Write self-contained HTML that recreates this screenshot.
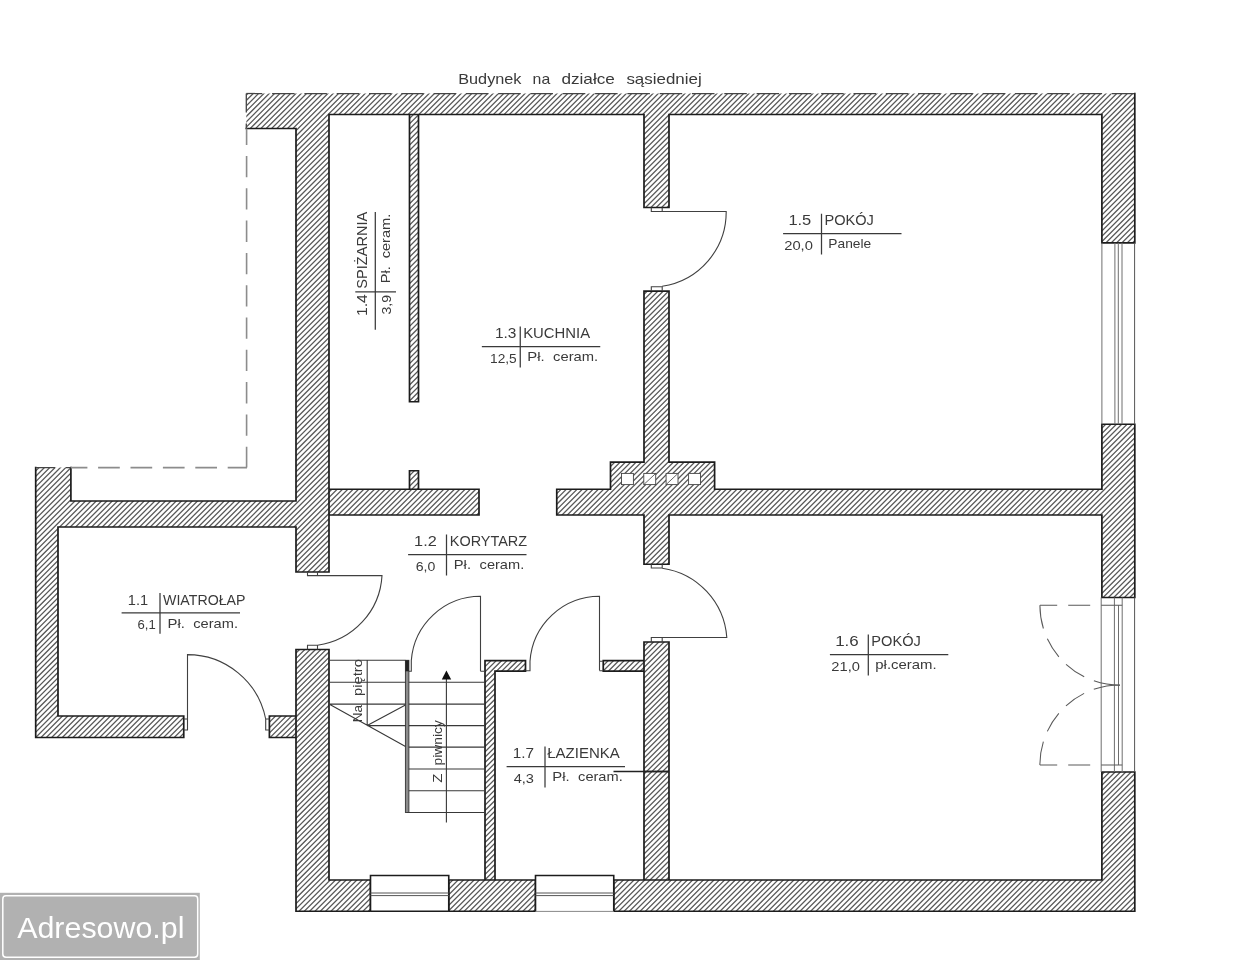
<!DOCTYPE html>
<html lang="pl">
<head>
<meta charset="utf-8">
<title>Rzut parteru</title>
<style>
html,body{margin:0;padding:0;background:#fff;}
body{width:1242px;height:960px;overflow:hidden;font-family:"Liberation Sans",sans-serif;}
svg{display:block;will-change:transform;}
</style>
</head>
<body>
<svg width="1242" height="960" viewBox="0 0 1242 960">
<defs><clipPath id="wc"><path d="M418.5 401.75 L418.5 114.5 L644 114.5 L644 207.5 L669 207.5 L669 114.5 L1101.9 114.5 L1101.9 242.8 L1134.8 242.8 L1134.8 114.5 L1134.8 93.5 L1101.9 93.5 L329 93.5 L296 93.5 L246.3 93.5 L246.3 114.5 L246.3 128.5 L296 128.5 L296 501 L70.9 501 L70.9 467.6 L35.7 467.6 L35.7 501 L35.7 527 L35.7 716 L35.7 737.5 L58 737.5 L183.75 737.5 L183.75 716 L58 716 L58 527 L296 527 L296 572 L329 572 L329 515 L479 515 L479 489.25 L418.5 489.25 L418.5 470.75 L409.5 470.75 L409.5 489.25 L329 489.25 L329 114.5 L409.5 114.5 L409.5 401.75 Z M296 737.5 L296 880 L296 911.25 L329 911.25 L370.5 911.25 L370.5 880 L329 880 L329 649.5 L296 649.5 L296 716 L269.4 716 L269.4 737.5 Z M485 671.1 L485 880 L448.75 880 L448.75 911.25 L535.5 911.25 L535.5 880 L495 880 L495 671.1 L525.5 671.1 L525.5 660.7 L495 660.7 L485 660.7 Z M556.75 489.25 L556.75 515 L644 515 L644 564.25 L669 564.25 L669 515 L1101.9 515 L1101.9 597.5 L1134.8 597.5 L1134.8 424.25 L1101.9 424.25 L1101.9 489.25 L714.6 489.25 L714.6 462.2 L669 462.2 L669 291.1 L644 291.1 L644 462.2 L610.5 462.2 L610.5 489.25 Z M644 771.5 L644 880 L613.75 880 L613.75 911.25 L1101.9 911.25 L1134.8 911.25 L1134.8 880 L1134.8 772 L1101.9 772 L1101.9 880 L669 880 L669 771.5 L669 642 L644 642 L644 660.7 L603.25 660.7 L603.25 671.1 L644 671.1 Z" clip-rule="evenodd"/></clipPath></defs>
<rect width="1242" height="960" fill="#fff"/>
<g clip-path="url(#wc)"><path d="M0.3 0 L-959.7 960 M5.63 0 L-954.37 960 M10.96 0 L-949.04 960 M16.29 0 L-943.71 960 M21.62 0 L-938.38 960 M26.95 0 L-933.05 960 M32.28 0 L-927.72 960 M37.61 0 L-922.39 960 M42.94 0 L-917.06 960 M48.27 0 L-911.73 960 M53.6 0 L-906.4 960 M58.93 0 L-901.07 960 M64.26 0 L-895.74 960 M69.59 0 L-890.41 960 M74.92 0 L-885.08 960 M80.25 0 L-879.75 960 M85.58 0 L-874.42 960 M90.91 0 L-869.09 960 M96.24 0 L-863.76 960 M101.57 0 L-858.43 960 M106.9 0 L-853.1 960 M112.23 0 L-847.77 960 M117.56 0 L-842.44 960 M122.89 0 L-837.11 960 M128.22 0 L-831.78 960 M133.55 0 L-826.45 960 M138.88 0 L-821.12 960 M144.21 0 L-815.79 960 M149.54 0 L-810.46 960 M154.87 0 L-805.13 960 M160.2 0 L-799.8 960 M165.53 0 L-794.47 960 M170.86 0 L-789.14 960 M176.19 0 L-783.81 960 M181.52 0 L-778.48 960 M186.85 0 L-773.15 960 M192.18 0 L-767.82 960 M197.51 0 L-762.49 960 M202.84 0 L-757.16 960 M208.17 0 L-751.83 960 M213.5 0 L-746.5 960 M218.83 0 L-741.17 960 M224.16 0 L-735.84 960 M229.49 0 L-730.51 960 M234.82 0 L-725.18 960 M240.15 0 L-719.85 960 M245.48 0 L-714.52 960 M250.81 0 L-709.19 960 M256.14 0 L-703.86 960 M261.47 0 L-698.53 960 M266.8 0 L-693.2 960 M272.13 0 L-687.87 960 M277.46 0 L-682.54 960 M282.79 0 L-677.21 960 M288.12 0 L-671.88 960 M293.45 0 L-666.55 960 M298.78 0 L-661.22 960 M304.11 0 L-655.89 960 M309.44 0 L-650.56 960 M314.77 0 L-645.23 960 M320.1 0 L-639.9 960 M325.43 0 L-634.57 960 M330.76 0 L-629.24 960 M336.09 0 L-623.91 960 M341.42 0 L-618.58 960 M346.75 0 L-613.25 960 M352.08 0 L-607.92 960 M357.41 0 L-602.59 960 M362.74 0 L-597.26 960 M368.07 0 L-591.93 960 M373.4 0 L-586.6 960 M378.73 0 L-581.27 960 M384.06 0 L-575.94 960 M389.39 0 L-570.61 960 M394.72 0 L-565.28 960 M400.05 0 L-559.95 960 M405.38 0 L-554.62 960 M410.71 0 L-549.29 960 M416.04 0 L-543.96 960 M421.37 0 L-538.63 960 M426.7 0 L-533.3 960 M432.03 0 L-527.97 960 M437.36 0 L-522.64 960 M442.69 0 L-517.31 960 M448.02 0 L-511.98 960 M453.35 0 L-506.65 960 M458.68 0 L-501.32 960 M464.01 0 L-495.99 960 M469.34 0 L-490.66 960 M474.67 0 L-485.33 960 M480 0 L-480 960 M485.33 0 L-474.67 960 M490.66 0 L-469.34 960 M495.99 0 L-464.01 960 M501.32 0 L-458.68 960 M506.65 0 L-453.35 960 M511.98 0 L-448.02 960 M517.31 0 L-442.69 960 M522.64 0 L-437.36 960 M527.97 0 L-432.03 960 M533.3 0 L-426.7 960 M538.63 0 L-421.37 960 M543.96 0 L-416.04 960 M549.29 0 L-410.71 960 M554.62 0 L-405.38 960 M559.95 0 L-400.05 960 M565.28 0 L-394.72 960 M570.61 0 L-389.39 960 M575.94 0 L-384.06 960 M581.27 0 L-378.73 960 M586.6 0 L-373.4 960 M591.93 0 L-368.07 960 M597.26 0 L-362.74 960 M602.59 0 L-357.41 960 M607.92 0 L-352.08 960 M613.25 0 L-346.75 960 M618.58 0 L-341.42 960 M623.91 0 L-336.09 960 M629.24 0 L-330.76 960 M634.57 0 L-325.43 960 M639.9 0 L-320.1 960 M645.23 0 L-314.77 960 M650.56 0 L-309.44 960 M655.89 0 L-304.11 960 M661.22 0 L-298.78 960 M666.55 0 L-293.45 960 M671.88 0 L-288.12 960 M677.21 0 L-282.79 960 M682.54 0 L-277.46 960 M687.87 0 L-272.13 960 M693.2 0 L-266.8 960 M698.53 0 L-261.47 960 M703.86 0 L-256.14 960 M709.19 0 L-250.81 960 M714.52 0 L-245.48 960 M719.85 0 L-240.15 960 M725.18 0 L-234.82 960 M730.51 0 L-229.49 960 M735.84 0 L-224.16 960 M741.17 0 L-218.83 960 M746.5 0 L-213.5 960 M751.83 0 L-208.17 960 M757.16 0 L-202.84 960 M762.49 0 L-197.51 960 M767.82 0 L-192.18 960 M773.15 0 L-186.85 960 M778.48 0 L-181.52 960 M783.81 0 L-176.19 960 M789.14 0 L-170.86 960 M794.47 0 L-165.53 960 M799.8 0 L-160.2 960 M805.13 0 L-154.87 960 M810.46 0 L-149.54 960 M815.79 0 L-144.21 960 M821.12 0 L-138.88 960 M826.45 0 L-133.55 960 M831.78 0 L-128.22 960 M837.11 0 L-122.89 960 M842.44 0 L-117.56 960 M847.77 0 L-112.23 960 M853.1 0 L-106.9 960 M858.43 0 L-101.57 960 M863.76 0 L-96.24 960 M869.09 0 L-90.91 960 M874.42 0 L-85.58 960 M879.75 0 L-80.25 960 M885.08 0 L-74.92 960 M890.41 0 L-69.59 960 M895.74 0 L-64.26 960 M901.07 0 L-58.93 960 M906.4 0 L-53.6 960 M911.73 0 L-48.27 960 M917.06 0 L-42.94 960 M922.39 0 L-37.61 960 M927.72 0 L-32.28 960 M933.05 0 L-26.95 960 M938.38 0 L-21.62 960 M943.71 0 L-16.29 960 M949.04 0 L-10.96 960 M954.37 0 L-5.63 960 M959.7 0 L-0.3 960 M965.03 0 L5.03 960 M970.36 0 L10.36 960 M975.69 0 L15.69 960 M981.02 0 L21.02 960 M986.35 0 L26.35 960 M991.68 0 L31.68 960 M997.01 0 L37.01 960 M1002.34 0 L42.34 960 M1007.67 0 L47.67 960 M1013 0 L53 960 M1018.33 0 L58.33 960 M1023.66 0 L63.66 960 M1028.99 0 L68.99 960 M1034.32 0 L74.32 960 M1039.65 0 L79.65 960 M1044.98 0 L84.98 960 M1050.31 0 L90.31 960 M1055.64 0 L95.64 960 M1060.97 0 L100.97 960 M1066.3 0 L106.3 960 M1071.63 0 L111.63 960 M1076.96 0 L116.96 960 M1082.29 0 L122.29 960 M1087.62 0 L127.62 960 M1092.95 0 L132.95 960 M1098.28 0 L138.28 960 M1103.61 0 L143.61 960 M1108.94 0 L148.94 960 M1114.27 0 L154.27 960 M1119.6 0 L159.6 960 M1124.93 0 L164.93 960 M1130.26 0 L170.26 960 M1135.59 0 L175.59 960 M1140.92 0 L180.92 960 M1146.25 0 L186.25 960 M1151.58 0 L191.58 960 M1156.91 0 L196.91 960 M1162.24 0 L202.24 960 M1167.57 0 L207.57 960 M1172.9 0 L212.9 960 M1178.23 0 L218.23 960 M1183.56 0 L223.56 960 M1188.89 0 L228.89 960 M1194.22 0 L234.22 960 M1199.55 0 L239.55 960 M1204.88 0 L244.88 960 M1210.21 0 L250.21 960 M1215.54 0 L255.54 960 M1220.87 0 L260.87 960 M1226.2 0 L266.2 960 M1231.53 0 L271.53 960 M1236.86 0 L276.86 960 M1242.19 0 L282.19 960 M1247.52 0 L287.52 960 M1252.85 0 L292.85 960 M1258.18 0 L298.18 960 M1263.51 0 L303.51 960 M1268.84 0 L308.84 960 M1274.17 0 L314.17 960 M1279.5 0 L319.5 960 M1284.83 0 L324.83 960 M1290.16 0 L330.16 960 M1295.49 0 L335.49 960 M1300.82 0 L340.82 960 M1306.15 0 L346.15 960 M1311.48 0 L351.48 960 M1316.81 0 L356.81 960 M1322.14 0 L362.14 960 M1327.47 0 L367.47 960 M1332.8 0 L372.8 960 M1338.13 0 L378.13 960 M1343.46 0 L383.46 960 M1348.79 0 L388.79 960 M1354.12 0 L394.12 960 M1359.45 0 L399.45 960 M1364.78 0 L404.78 960 M1370.11 0 L410.11 960 M1375.44 0 L415.44 960 M1380.77 0 L420.77 960 M1386.1 0 L426.1 960 M1391.43 0 L431.43 960 M1396.76 0 L436.76 960 M1402.09 0 L442.09 960 M1407.42 0 L447.42 960 M1412.75 0 L452.75 960 M1418.08 0 L458.08 960 M1423.41 0 L463.41 960 M1428.74 0 L468.74 960 M1434.07 0 L474.07 960 M1439.4 0 L479.4 960 M1444.73 0 L484.73 960 M1450.06 0 L490.06 960 M1455.39 0 L495.39 960 M1460.72 0 L500.72 960 M1466.05 0 L506.05 960 M1471.38 0 L511.38 960 M1476.71 0 L516.71 960 M1482.04 0 L522.04 960 M1487.37 0 L527.37 960 M1492.7 0 L532.7 960 M1498.03 0 L538.03 960 M1503.36 0 L543.36 960 M1508.69 0 L548.69 960 M1514.02 0 L554.02 960 M1519.35 0 L559.35 960 M1524.68 0 L564.68 960 M1530.01 0 L570.01 960 M1535.34 0 L575.34 960 M1540.67 0 L580.67 960 M1546 0 L586 960 M1551.33 0 L591.33 960 M1556.66 0 L596.66 960 M1561.99 0 L601.99 960 M1567.32 0 L607.32 960 M1572.65 0 L612.65 960 M1577.98 0 L617.98 960 M1583.31 0 L623.31 960 M1588.64 0 L628.64 960 M1593.97 0 L633.97 960 M1599.3 0 L639.3 960 M1604.63 0 L644.63 960 M1609.96 0 L649.96 960 M1615.29 0 L655.29 960 M1620.62 0 L660.62 960 M1625.95 0 L665.95 960 M1631.28 0 L671.28 960 M1636.61 0 L676.61 960 M1641.94 0 L681.94 960 M1647.27 0 L687.27 960 M1652.6 0 L692.6 960 M1657.93 0 L697.93 960 M1663.26 0 L703.26 960 M1668.59 0 L708.59 960 M1673.92 0 L713.92 960 M1679.25 0 L719.25 960 M1684.58 0 L724.58 960 M1689.91 0 L729.91 960 M1695.24 0 L735.24 960 M1700.57 0 L740.57 960 M1705.9 0 L745.9 960 M1711.23 0 L751.23 960 M1716.56 0 L756.56 960 M1721.89 0 L761.89 960 M1727.22 0 L767.22 960 M1732.55 0 L772.55 960 M1737.88 0 L777.88 960 M1743.21 0 L783.21 960 M1748.54 0 L788.54 960 M1753.87 0 L793.87 960 M1759.2 0 L799.2 960 M1764.53 0 L804.53 960 M1769.86 0 L809.86 960 M1775.19 0 L815.19 960 M1780.52 0 L820.52 960 M1785.85 0 L825.85 960 M1791.18 0 L831.18 960 M1796.51 0 L836.51 960 M1801.84 0 L841.84 960 M1807.17 0 L847.17 960 M1812.5 0 L852.5 960 M1817.83 0 L857.83 960 M1823.16 0 L863.16 960 M1828.49 0 L868.49 960 M1833.82 0 L873.82 960 M1839.15 0 L879.15 960 M1844.48 0 L884.48 960 M1849.81 0 L889.81 960 M1855.14 0 L895.14 960 M1860.47 0 L900.47 960 M1865.8 0 L905.8 960 M1871.13 0 L911.13 960 M1876.46 0 L916.46 960 M1881.79 0 L921.79 960 M1887.12 0 L927.12 960 M1892.45 0 L932.45 960 M1897.78 0 L937.78 960 M1903.11 0 L943.11 960 M1908.44 0 L948.44 960 M1913.77 0 L953.77 960 M1919.1 0 L959.1 960 M1924.43 0 L964.43 960 M1929.76 0 L969.76 960 M1935.09 0 L975.09 960 M1940.42 0 L980.42 960 M1945.75 0 L985.75 960 M1951.08 0 L991.08 960 M1956.41 0 L996.41 960 M1961.74 0 L1001.74 960 M1967.07 0 L1007.07 960 M1972.4 0 L1012.4 960 M1977.73 0 L1017.73 960 M1983.06 0 L1023.06 960 M1988.39 0 L1028.39 960 M1993.72 0 L1033.72 960 M1999.05 0 L1039.05 960 M2004.38 0 L1044.38 960 M2009.71 0 L1049.71 960 M2015.04 0 L1055.04 960 M2020.37 0 L1060.37 960 M2025.7 0 L1065.7 960 M2031.03 0 L1071.03 960 M2036.36 0 L1076.36 960 M2041.69 0 L1081.69 960 M2047.02 0 L1087.02 960 M2052.35 0 L1092.35 960 M2057.68 0 L1097.68 960 M2063.01 0 L1103.01 960 M2068.34 0 L1108.34 960 M2073.67 0 L1113.67 960 M2079 0 L1119 960 M2084.33 0 L1124.33 960 M2089.66 0 L1129.66 960 M2094.99 0 L1134.99 960 M2100.32 0 L1140.32 960 M2105.65 0 L1145.65 960 M2110.98 0 L1150.98 960 M2116.31 0 L1156.31 960 M2121.64 0 L1161.64 960 M2126.97 0 L1166.97 960 M2132.3 0 L1172.3 960 M2137.63 0 L1177.63 960 M2142.96 0 L1182.96 960 M2148.29 0 L1188.29 960 M2153.62 0 L1193.62 960 M2158.95 0 L1198.95 960 M2164.28 0 L1204.28 960 M2169.61 0 L1209.61 960 M2174.94 0 L1214.94 960 M2180.27 0 L1220.27 960 M2185.6 0 L1225.6 960 M2190.93 0 L1230.93 960 M2196.26 0 L1236.26 960 M2201.59 0 L1241.59 960 M2206.92 0 L1246.92 960" stroke="#5a5a5a" stroke-width="1.3" fill="none"/></g>
<rect x="621.5" y="473.4" width="11.9" height="11.2" fill="#fff" stroke="#444" stroke-width="0.9"/>
<rect x="643.8" y="473.4" width="11.9" height="11.2" fill="#fff" stroke="#444" stroke-width="0.9"/>
<rect x="666.1" y="473.4" width="11.9" height="11.2" fill="#fff" stroke="#444" stroke-width="0.9"/>
<rect x="688.6" y="473.4" width="11.9" height="11.2" fill="#fff" stroke="#444" stroke-width="0.9"/>
<path d="M644.2 484.2 L655.3 473.8 M666.5 484.2 L677.6 473.8" stroke="#555" stroke-width="0.9"/>
<path d="M35.7 467.6 L35.7 501 L35.7 527 L35.7 716 L35.7 737.5 L58 737.5 L183.75 737.5 L183.75 716 L58 716 L58 527 L296 527 L296 572 L329 572 L329 114.5 L644 114.5 L644 207.5 L669 207.5 L669 114.5 L1101.9 114.5 L1101.9 242.8 L1134.8 242.8 L1134.8 114.5 L1134.8 93.5 M246.3 128.5 L296 128.5 L296 501 L70.9 501 L70.9 467.6 M669 771.5 L644 771.5 M644 771.5 L669 771.5 M669 771.5 L669 880 L644 880 L644 771.5 M644 771.5 L644 642 L669 642 L669 771.5 M269.4 716 L296 716 L296 737.5 L269.4 737.5 Z M296 649.5 L296 880 L296 911.25 L329 911.25 L370.5 911.25 L370.5 880 L329 880 L329 649.5 Z M329 489.25 L479 489.25 L479 515 L329 515 Z M409.5 114.5 L418.5 114.5 L418.5 401.75 L409.5 401.75 Z M409.5 470.75 L418.5 470.75 L418.5 489.25 L409.5 489.25 Z M448.75 880 L535.5 880 L535.5 911.25 L448.75 911.25 Z M485 660.7 L485 671.1 L485 880 L495 880 L495 671.1 L525.5 671.1 L525.5 660.7 L495 660.7 Z M556.75 489.25 L556.75 515 L644 515 L644 564.25 L669 564.25 L669 515 L1101.9 515 L1101.9 597.5 L1134.8 597.5 L1134.8 424.25 L1101.9 424.25 L1101.9 489.25 L714.6 489.25 L714.6 462.2 L669 462.2 L669 291.1 L644 291.1 L644 462.2 L610.5 462.2 L610.5 489.25 Z M603.25 660.7 L644 660.7 L644 671.1 L603.25 671.1 Z M613.75 880 L613.75 911.25 L1101.9 911.25 L1134.8 911.25 L1134.8 880 L1134.8 772 L1101.9 772 L1101.9 880 Z" fill="none" stroke="#1c1c1c" stroke-width="1.7" stroke-linecap="square" stroke-linejoin="miter"/>
<path d="M246.3 93.5 L1134.8 93.5" fill="none" stroke="#444" stroke-width="1.25" stroke-dasharray="22.5 9.8" stroke-dashoffset="6.5"/>
<path d="M246.3 93.5 L246.3 128.5" fill="none" stroke="#444" stroke-width="1.3" stroke-dasharray="21.3 11" stroke-dashoffset="2.2"/>
<path d="M246.6 128.5 L246.6 467.6" fill="none" stroke="#8c8c8c" stroke-width="1.6" stroke-dasharray="21.3 11" stroke-dashoffset="4.8"/>
<path d="M35.7 467.6 L70.9 467.6" fill="none" stroke="#444" stroke-width="1.3" stroke-dasharray="21.7 10.7" stroke-dashoffset="2.4"/>
<path d="M70.9 467.6 L247 467.6" fill="none" stroke="#8c8c8c" stroke-width="1.6" stroke-dasharray="21.7 10.7" stroke-dashoffset="5.2"/>
<path d="M1101.9 242.8 L1101.9 424.25" stroke="#6e6e6e" stroke-width="1.0" fill="none"/>
<path d="M1114.9 242.8 L1114.9 424.25" stroke="#6e6e6e" stroke-width="1.0" fill="none"/>
<path d="M1118.3 242.8 L1118.3 424.25" stroke="#6e6e6e" stroke-width="1.0" fill="none"/>
<path d="M1122 242.8 L1122 424.25" stroke="#6e6e6e" stroke-width="1.0" fill="none"/>
<path d="M1134.6 242.8 L1134.6 424.25" stroke="#555" stroke-width="1.0" fill="none"/>
<path d="M1101.2 597.5 L1101.2 772" stroke="#6e6e6e" stroke-width="1.0" fill="none"/>
<path d="M1114.4 597.5 L1114.4 772" stroke="#6e6e6e" stroke-width="1.0" fill="none"/>
<path d="M1122.2 597.5 L1122.2 772" stroke="#6e6e6e" stroke-width="1.0" fill="none"/>
<path d="M1134.6 597.5 L1134.6 772" stroke="#555" stroke-width="1.0" fill="none"/>
<path d="M1118.5 605.2 L1118.5 765" stroke="#6e6e6e" stroke-width="1.0" fill="none"/>
<path d="M1039.9 605.2 L1122.2 605.2 M1039.9 765 L1122.2 765" fill="none" stroke="#5a5a5a" stroke-width="1.05" stroke-dasharray="22 11" stroke-dashoffset="4.7"/>
<path d="M1039.9 605.2 A80.1 80.1 0 0 0 1120 685.2" fill="none" stroke="#5a5a5a" stroke-width="1.05" stroke-dasharray="23.7 11 21.4 10.3 22 10.5 40"/>
<path d="M1039.9 765 A80.1 80.1 0 0 1 1120 684.9" fill="none" stroke="#5a5a5a" stroke-width="1.05" stroke-dasharray="23.7 11 21.4 10.3 22 10.5 40"/>
<rect x="370.5" y="875.5" width="78.25" height="35.75" fill="#fff" stroke="none"/>
<path d="M370.5 911.25 L370.5 875.5 L448.75 875.5 L448.75 911.25" fill="none" stroke="#1c1c1c" stroke-width="1.6"/>
<path d="M370.5 893 L448.75 893" stroke="#555" stroke-width="1.0" fill="none"/>
<path d="M370.5 895.6 L448.75 895.6" stroke="#555" stroke-width="1.0" fill="none"/>
<path d="M370.5 911.25 L448.75 911.25" stroke="#1c1c1c" stroke-width="1.6" fill="none"/>
<rect x="535.5" y="875.5" width="78.25" height="35.75" fill="#fff" stroke="none"/>
<path d="M535.5 911.25 L535.5 875.5 L613.75 875.5 L613.75 911.25" fill="none" stroke="#1c1c1c" stroke-width="1.6"/>
<path d="M535.5 893 L613.75 893" stroke="#555" stroke-width="1.0" fill="none"/>
<path d="M535.5 895.6 L613.75 895.6" stroke="#555" stroke-width="1.0" fill="none"/>
<path d="M535.5 911.4 L613.75 911.4" stroke="#888" stroke-width="1.0" fill="none"/>
<path d="M651.3 207.5 L651.3 211.5 L726.2 211.5 A75 75 0 0 1 662.2 286.2 M662.2 207.5 L662.2 211.5 M651.3 291.1 L651.3 286.75 L662.2 286.75 L662.2 291.1" fill="none" stroke="#404040" stroke-width="1.1"/>
<path d="M651.3 642 L651.3 637.5 L726.8 637.5 A75.5 75.5 0 0 0 662.2 568.2 M662.2 642 L662.2 637.5 M651.3 564.25 L651.3 568 L662.2 568 L662.2 564.25" fill="none" stroke="#404040" stroke-width="1.1"/>
<path d="M307.5 572 L307.5 575.6 L382 575.6 A74.5 74.5 0 0 1 317.5 645.2 M317.5 572 L317.5 575.6 M307.5 649.5 L307.5 645.2 L317.5 645.2 L317.5 649.5" fill="none" stroke="#404040" stroke-width="1.1"/>
<path d="M183.75 719 L187.5 719 L187.5 730 L183.75 730 M187.5 719 L187.5 654.6 A79.8 79.8 0 0 1 265.7 719 M269.4 719 L265.7 719 L265.7 730 L269.4 730" fill="none" stroke="#404040" stroke-width="1.1"/>
<path d="M480.5 671.25 L480.5 596.25 A69.4 69.4 0 0 0 411.3 660.5 M411.3 660.3 L411.3 671.25 L405.5 671.25 M485 671.25 L480.5 671.25" fill="none" stroke="#404040" stroke-width="1.1"/>
<path d="M599.5 670.5 L599.5 596.25 A69.7 69.7 0 0 0 530 661.3 M525.5 670.8 L530 670.8 L530 661.3 M599.5 661.25 L603.25 661.25 M599.5 670.8 L603.25 670.8" fill="none" stroke="#404040" stroke-width="1.1"/>
<path d="M329 660.3 L405.4 660.3 M329 682.2 L485 682.2 M329 704.1 L485 704.1 M367.2 725.6 L485 725.6 M407 747.1 L485 747.1 M407 769 L485 769 M407 790.75 L485 790.75 M407 812.5 L485 812.5 M367.2 660.3 L367.2 725.6 M329 704.1 L405.5 746.4 M367.2 725.6 L405 705.2 M446.4 676 L446.4 822.5" fill="none" stroke="#383838" stroke-width="1.1"/>
<rect x="405.4" y="660.3" width="3.5" height="152.2" fill="#8c8c8c" stroke="#333" stroke-width="0.9"/>
<rect x="405.4" y="660.3" width="3.5" height="11" fill="#222"/>
<path d="M446.4 670.6 L441.8 679.4 L451.2 679.4 Z" fill="#111"/>
<path d="M613.5 771.5 L669 771.5" stroke="#222" stroke-width="1.4" fill="none"/>
<g font-family="'Liberation Sans', sans-serif" style="white-space:pre">
<text x="458.2" y="83.6" font-size="15" fill="#3a3a3a" text-anchor="start" textLength="63.3" lengthAdjust="spacingAndGlyphs">Budynek</text>
<text x="532.6" y="83.6" font-size="15" fill="#3a3a3a" text-anchor="start" textLength="17.6" lengthAdjust="spacingAndGlyphs">na</text>
<text x="561.4" y="83.6" font-size="15" fill="#3a3a3a" text-anchor="start" textLength="53.5" lengthAdjust="spacingAndGlyphs">działce</text>
<text x="626.4" y="83.6" font-size="15" fill="#3a3a3a" text-anchor="start" textLength="75.3" lengthAdjust="spacingAndGlyphs">sąsiedniej</text>
<path d="M783.1 233.65 L901.5 233.65 M821.5 213.65 L821.5 254.55" stroke="#3a3a3a" stroke-width="1.25" fill="none"/>
<text x="788.4" y="225.25" font-size="15" fill="#3a3a3a" text-anchor="start" textLength="22.9" lengthAdjust="spacingAndGlyphs">1.5</text>
<text x="824.5" y="225.25" font-size="15" fill="#3a3a3a" text-anchor="start" textLength="49.4" lengthAdjust="spacingAndGlyphs">POKÓJ</text>
<text x="784.2" y="250.05" font-size="12.2" fill="#3a3a3a" text-anchor="start" textLength="28.7" lengthAdjust="spacingAndGlyphs">20,0</text>
<text x="828.3" y="248.25" font-size="12.2" fill="#3a3a3a" text-anchor="start" textLength="42.9" lengthAdjust="spacingAndGlyphs">Panele</text>
<path d="M481.85 346.5 L600.25 346.5 M520.25 326.5 L520.25 367.4" stroke="#3a3a3a" stroke-width="1.25" fill="none"/>
<text x="494.9" y="338.1" font-size="15" fill="#3a3a3a" text-anchor="start" textLength="21.5" lengthAdjust="spacingAndGlyphs">1.3</text>
<text x="523.2" y="338.1" font-size="15" fill="#3a3a3a" text-anchor="start" textLength="66.9" lengthAdjust="spacingAndGlyphs">KUCHNIA</text>
<text x="490" y="362.9" font-size="12.2" fill="#3a3a3a" text-anchor="start" textLength="26.7" lengthAdjust="spacingAndGlyphs">12,5</text>
<text x="527.3" y="361.1" font-size="12.2" fill="#3a3a3a" text-anchor="start" textLength="17.4" lengthAdjust="spacingAndGlyphs">Pł.</text>
<text x="553.1" y="361.1" font-size="12.2" fill="#3a3a3a" text-anchor="start" textLength="45.1" lengthAdjust="spacingAndGlyphs">ceram.</text>
<path d="M408.1 554.5 L526.5 554.5 M446.5 534.5 L446.5 575.4" stroke="#3a3a3a" stroke-width="1.25" fill="none"/>
<text x="414.1" y="546.1" font-size="15" fill="#3a3a3a" text-anchor="start" textLength="22.6" lengthAdjust="spacingAndGlyphs">1.2</text>
<text x="449.8" y="546.1" font-size="15" fill="#3a3a3a" text-anchor="start" textLength="77.3" lengthAdjust="spacingAndGlyphs">KORYTARZ</text>
<text x="415.7" y="570.9" font-size="12.2" fill="#3a3a3a" text-anchor="start" textLength="19.6" lengthAdjust="spacingAndGlyphs">6,0</text>
<text x="453.8" y="569.1" font-size="12.2" fill="#3a3a3a" text-anchor="start" textLength="17.2" lengthAdjust="spacingAndGlyphs">Pł.</text>
<text x="479.6" y="569.1" font-size="12.2" fill="#3a3a3a" text-anchor="start" textLength="44.6" lengthAdjust="spacingAndGlyphs">ceram.</text>
<path d="M121.6 612.9 L240 612.9 M160 592.9 L160 633.8" stroke="#3a3a3a" stroke-width="1.25" fill="none"/>
<text x="127.8" y="604.5" font-size="15" fill="#3a3a3a" text-anchor="start" textLength="20.3" lengthAdjust="spacingAndGlyphs">1.1</text>
<text x="163" y="604.5" font-size="15" fill="#3a3a3a" text-anchor="start" textLength="82.5" lengthAdjust="spacingAndGlyphs">WIATROŁAP</text>
<text x="137.5" y="629.3" font-size="12.2" fill="#3a3a3a" text-anchor="start" textLength="18.2" lengthAdjust="spacingAndGlyphs">6,1</text>
<text x="167.5" y="627.5" font-size="12.2" fill="#3a3a3a" text-anchor="start" textLength="17.4" lengthAdjust="spacingAndGlyphs">Pł.</text>
<text x="193.3" y="627.5" font-size="12.2" fill="#3a3a3a" text-anchor="start" textLength="44.7" lengthAdjust="spacingAndGlyphs">ceram.</text>
<path d="M829.9 654.5 L948.3 654.5 M868.3 634.5 L868.3 675.4" stroke="#3a3a3a" stroke-width="1.25" fill="none"/>
<text x="835.2" y="646.1" font-size="15" fill="#3a3a3a" text-anchor="start" textLength="23.5" lengthAdjust="spacingAndGlyphs">1.6</text>
<text x="871.3" y="646.1" font-size="15" fill="#3a3a3a" text-anchor="start" textLength="49.5" lengthAdjust="spacingAndGlyphs">POKÓJ</text>
<text x="831.3" y="670.9" font-size="12.2" fill="#3a3a3a" text-anchor="start" textLength="28.6" lengthAdjust="spacingAndGlyphs">21,0</text>
<text x="875.3" y="669.1" font-size="12.2" fill="#3a3a3a" text-anchor="start" textLength="61.4" lengthAdjust="spacingAndGlyphs">pł.ceram.</text>
<path d="M506.6 766.5 L625 766.5 M545 746.5 L545 787.4" stroke="#3a3a3a" stroke-width="1.25" fill="none"/>
<text x="512.8" y="758.1" font-size="15" fill="#3a3a3a" text-anchor="start" textLength="21.3" lengthAdjust="spacingAndGlyphs">1.7</text>
<text x="547.2" y="758.1" font-size="15" fill="#3a3a3a" text-anchor="start" textLength="72.7" lengthAdjust="spacingAndGlyphs">ŁAZIENKA</text>
<text x="513.7" y="782.9" font-size="12.2" fill="#3a3a3a" text-anchor="start" textLength="20.3" lengthAdjust="spacingAndGlyphs">4,3</text>
<text x="552.3" y="781.1" font-size="12.2" fill="#3a3a3a" text-anchor="start" textLength="17.4" lengthAdjust="spacingAndGlyphs">Pł.</text>
<text x="578.1" y="781.1" font-size="12.2" fill="#3a3a3a" text-anchor="start" textLength="44.6" lengthAdjust="spacingAndGlyphs">ceram.</text>
<g transform="translate(375.3 291.9) rotate(-90)">
<path d="M-37.8 0 L80 0 M0 -20 L0 20.7" stroke="#3a3a3a" stroke-width="1.25" fill="none"/>
<text x="-24.2" y="-8.3" font-size="15" fill="#3a3a3a" textLength="21.9" lengthAdjust="spacingAndGlyphs">1.4</text>
<text x="3.1" y="-8.3" font-size="15" fill="#3a3a3a" textLength="77.1" lengthAdjust="spacingAndGlyphs">SPIŻARNIA</text>
<text x="-22.65" y="16" font-size="12.2" fill="#3a3a3a" textLength="19.55" lengthAdjust="spacingAndGlyphs">3,9</text>
<text x="8.6" y="14.4" font-size="12.2" fill="#3a3a3a" textLength="17.1" lengthAdjust="spacingAndGlyphs">Pł.</text>
<text x="33.6" y="14.4" font-size="12.2" fill="#3a3a3a" textLength="44.6" lengthAdjust="spacingAndGlyphs">ceram.</text>
</g>
<text transform="translate(361.7 722.2) rotate(-90)" font-size="12" fill="#3a3a3a" textLength="17.3" lengthAdjust="spacingAndGlyphs">Na</text>
<text transform="translate(361.7 695.9) rotate(-90)" font-size="12" fill="#3a3a3a" textLength="36.9" lengthAdjust="spacingAndGlyphs">piętro</text>
<text transform="translate(442.3 782.7) rotate(-90)" font-size="12.5" fill="#3a3a3a" textLength="9.2" lengthAdjust="spacingAndGlyphs">Z</text>
<text transform="translate(442.3 765.5) rotate(-90)" font-size="12.5" fill="#3a3a3a" textLength="45.3" lengthAdjust="spacingAndGlyphs">piwnicy</text>
</g>
<rect x="0" y="892.8" width="199.8" height="67.2" fill="#b1b1b1"/>
<rect x="2.8" y="895.7" width="194.9" height="61.6" rx="3.2" ry="3.2" fill="none" stroke="#fff" stroke-width="1.5"/>
<text x="17.2" y="937.6" font-family="'Liberation Sans', sans-serif" font-size="30.4" fill="#fff">Adresowo.pl</text>
</svg>
</body>
</html>
